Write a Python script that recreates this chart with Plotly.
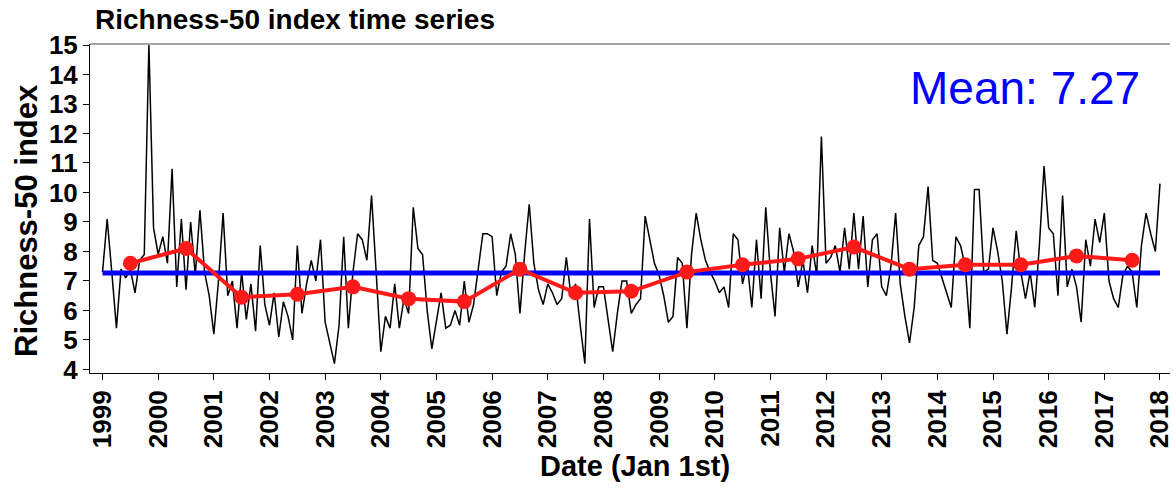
import plotly.graph_objects as go

# Monthly Richness-50 index values (Jan..Dec) per year
series_by_year = {
    1999: [7.3, 9.1, 7.3, 5.4, 7.4, 7.1, 7.4, 6.6, 7.7, 7.9, 15.0, 8.8],
    2000: [7.9, 8.5, 7.6, 10.8, 6.8, 9.1, 6.7, 9.0, 7.2, 9.4, 7.3, 6.5],
    2001: [5.2, 7.0, 9.3, 6.5, 7.0, 5.4, 7.3, 5.7, 6.9, 5.3, 8.2, 6.2],
    2002: [5.5, 6.6, 5.1, 6.3, 5.8, 5.0, 8.2, 5.9, 6.9, 7.7, 7.0, 8.4],
    2003: [5.6, 4.9, 4.2, 5.5, 8.5, 5.4, 7.3, 8.6, 8.4, 7.7, 9.9, 7.3],
    2004: [4.6, 5.8, 5.4, 6.9, 5.4, 6.4, 5.9, 9.5, 8.1, 7.9, 6.0, 4.7],
    2005: [5.6, 6.6, 5.4, 5.5, 6.0, 5.5, 7.0, 5.6, 6.2, 7.4, 8.6, 8.6],
    2006: [8.5, 6.5, 7.3, 7.5, 8.6, 7.9, 5.9, 7.9, 9.6, 7.6, 6.7, 6.2],
    2007: [6.9, 6.6, 6.2, 6.4, 7.8, 6.5, 6.9, 5.5, 4.2, 9.1, 6.1, 6.8],
    2008: [6.8, 5.7, 4.6, 5.9, 7.0, 7.0, 5.9, 6.2, 6.4, 9.2, 8.4, 7.6],
    2009: [7.2, 6.5, 5.6, 5.8, 7.8, 7.6, 5.4, 7.9, 9.3, 8.4, 7.7, 7.3],
    2010: [7.0, 6.6, 6.8, 6.1, 8.6, 8.4, 6.9, 7.6, 6.1, 8.4, 6.4, 9.5],
    2011: [7.3, 5.8, 8.8, 7.3, 8.6, 8.0, 6.8, 7.7, 6.6, 8.2, 7.2, 11.9],
    2012: [7.6, 7.8, 8.2, 7.3, 8.8, 7.4, 9.3, 7.4, 9.2, 6.8, 8.4, 8.6],
    2013: [6.8, 6.5, 7.5, 9.3, 6.9, 5.8, 4.9, 6.1, 8.2, 8.5, 10.2, 7.7],
    2014: [7.6, 7.1, 6.6, 6.1, 8.5, 8.2, 7.5, 5.4, 10.1, 10.1, 7.3, 7.4],
    2015: [8.8, 8.0, 7.0, 5.2, 6.8, 8.7, 7.3, 6.4, 7.3, 6.1, 8.2, 10.9],
    2016: [8.8, 8.6, 6.5, 9.9, 6.8, 7.4, 6.8, 5.6, 8.4, 7.5, 9.1, 8.3],
    2017: [9.3, 7.0, 6.4, 6.1, 7.2, 7.5, 7.3, 6.1, 8.2, 9.3, 8.6, 8.0],
    2018: [10.3],
}

# Annual means (plotted at mid-year)
annual_years = list(range(1999, 2018))
annual_means = [7.6, 8.1, 6.45, 6.55, 6.8, 6.4, 6.3, 7.4, 6.6, 6.65,
                7.3, 7.55, 7.75, 8.15, 7.4, 7.55, 7.55, 7.85, 7.7]

overall_mean = 7.27
x_tick_years = list(range(1999, 2019))
y_ticks = list(range(4, 16))

# Build series
xs, ys = [], []
for yr, vals in series_by_year.items():
    for m, v in enumerate(vals):
        xs.append(yr + m / 12.0)
        ys.append(v)

FONT = "Liberation Sans, Arial, sans-serif"

fig = go.Figure()
fig.add_trace(go.Scatter(x=xs, y=ys, mode="lines",
                         line=dict(color="black", width=1.5), showlegend=False))
fig.add_trace(go.Scatter(x=[x_tick_years[0], x_tick_years[-1]],
                         y=[overall_mean, overall_mean], mode="lines",
                         line=dict(color="#0000ff", width=5), showlegend=False))
fig.add_trace(go.Scatter(x=[y + 0.5 for y in annual_years], y=annual_means,
                         mode="lines+markers",
                         line=dict(color="#ff1a1a", width=4),
                         marker=dict(color="#ff1a1a", size=15),
                         showlegend=False))

fig.update_layout(
    width=1173, height=489,
    margin=dict(l=90, r=3, t=44, b=116),
    plot_bgcolor="white", paper_bgcolor="white",
    font=dict(family=FONT, color="black"),
    xaxis=dict(range=[1998.775, 2018.18], tickmode="array",
               tickvals=x_tick_years, ticktext=[str(y) for y in x_tick_years],
               tickangle=-90, ticks="outside", ticklen=6, tickcolor="black",
               ticklabeloverflow="allow", automargin=False,
               showline=True, linecolor="black", linewidth=1,
               showgrid=False, zeroline=False,
               tickfont=dict(family=FONT, size=26, weight="bold")),
    yaxis=dict(range=[3.88, 15.034], tickmode="array", tickvals=y_ticks,
               ticks="outside", ticklen=6, tickcolor="black", automargin=False,
               showline=True, linecolor="black", linewidth=1,
               showgrid=False, zeroline=False,
               tickfont=dict(family=FONT, size=26, weight="bold")),
    shapes=[dict(type="line", xref="paper", yref="paper", x0=0, x1=1, y0=1, y1=1,
                 line=dict(color="#888888", width=1.5))],
    annotations=[
        dict(text="Richness-50 index time series", xref="paper", yref="paper",
             x=0.003, y=1.02, xanchor="left", yanchor="bottom", showarrow=False,
             font=dict(family=FONT, size=28, weight="bold")),
        dict(text="Date (Jan 1st)", xref="paper", yref="paper",
             x=0.5046, y=-0.283, xanchor="center", yanchor="middle", showarrow=False,
             font=dict(family=FONT, size=29, weight="bold")),
        dict(text="Richness-50 index", xref="paper", yref="paper",
             x=-0.0593, y=0.465, xanchor="center", yanchor="middle", showarrow=False,
             textangle=-90, font=dict(family=FONT, size=31, weight="bold")),
        dict(text="Mean: 7.27", xref="paper", yref="paper",
             x=0.974, y=0.866, xanchor="right", yanchor="middle", showarrow=False,
             font=dict(family=FONT, size=46, color="#0000ff")),
    ],
)

fig.write_html("out.html")
